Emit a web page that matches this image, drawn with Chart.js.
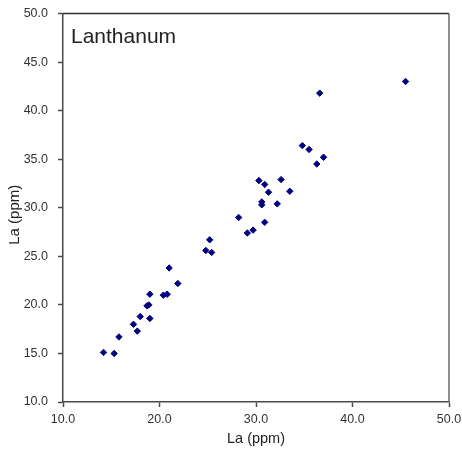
<!DOCTYPE html>
<html>
<head>
<meta charset="utf-8">
<script src="https://cdn.jsdelivr.net/npm/chart.js@4/dist/chart.umd.min.js"></script>
<style>
  html, body { margin: 0; padding: 0; background: #ffffff; }
  #wrap { width: 462px; height: 455px; }
</style>
</head>
<body>
<div id="wrap"><canvas id="chart" width="462" height="455"></canvas></div>
<script>
// Lanthanum: two La determinations (ppm) per sample
const laMethodA = [14.2, 15.3, 15.8, 17.3, 17.7, 18.0, 18.7, 18.9, 19.0, 19.0,
                   20.4, 20.8, 21.0, 21.9, 24.8, 25.2, 25.4, 28.2, 29.1, 29.7,
                   30.3, 30.6, 30.6, 30.9, 30.9, 31.3, 32.2, 32.6, 33.5, 34.8,
                   35.5, 36.3, 36.6, 37.0, 45.5];
const laMethodB = [15.1, 15.0, 16.7, 18.0, 17.3, 18.8, 19.9, 20.0, 18.6, 21.1,
                   21.0, 21.1, 23.8, 22.2, 25.6, 26.7, 25.4, 29.0, 27.4, 27.7,
                   32.8, 30.6, 30.3, 32.4, 28.5, 31.6, 30.4, 32.9, 31.7, 36.4,
                   36.0, 34.5, 41.8, 35.2, 43.0];
const xTickValues = [10, 20, 30, 40, 50];
const yTickValues = [10, 15, 20, 25, 30, 35, 40, 45, 50];
const panelTitle = 'Lanthanum';
const xAxisTitle = 'La (ppm)';
const yAxisTitle = 'La (ppm)';

const points = laMethodA.map((x, i) => ({ x: x, y: laMethodB[i] }));

const FONT = 'Arial, "Liberation Sans", Helvetica, sans-serif';
const AXIS = '#4a4a4a';

// Closes the plot frame on the top and right, writes the panel name inside it,
// and sets the vertical axis title beside the y scale
const framePlugin = {
  id: 'frame',
  afterDraw(chart) {
    const { ctx, chartArea: a } = chart;
    ctx.save();
    ctx.lineWidth = 1.5;
    ctx.strokeStyle = '#333333';
    ctx.beginPath();
    ctx.moveTo(a.left, a.top);
    ctx.lineTo(a.right, a.top);
    ctx.stroke();
    ctx.strokeStyle = '#6a6a6a';
    ctx.beginPath();
    ctx.moveTo(a.right, a.top);
    ctx.lineTo(a.right, a.bottom);
    ctx.stroke();

    ctx.fillStyle = '#222222';
    ctx.font = '21px ' + FONT;
    ctx.textAlign = 'left';
    ctx.textBaseline = 'alphabetic';
    ctx.fillText(panelTitle, a.left + 8, a.top + 29);

    const ys = chart.scales.y;
    ctx.translate(ys.left + 15, (a.top + a.bottom) / 2 + 7);
    ctx.rotate(-Math.PI / 2);
    ctx.font = '15px ' + FONT;
    ctx.textAlign = 'center';
    ctx.textBaseline = 'middle';
    ctx.fillText(yAxisTitle, 0, 0);
    ctx.restore();
  }
};

new Chart(document.getElementById('chart'), {
  type: 'scatter',
  data: {
    datasets: [{
      data: points,
      pointStyle: 'rectRot',
      pointRadius: 3.2,
      pointHoverRadius: 3.2,
      pointBackgroundColor: '#000080',
      pointBorderColor: '#000080',
      pointBorderWidth: 1
    }]
  },
  options: {
    responsive: false,
    devicePixelRatio: 1,
    animation: false,
    layout: { padding: { top: 13.5, right: 13, left: 0, bottom: 0 } },
    plugins: { legend: { display: false }, tooltip: { enabled: false } },
    scales: {
      x: {
        type: 'linear',
        min: 10, max: 50,
        afterBuildTicks(scale) { scale.ticks = xTickValues.map(v => ({ value: v })); },
        afterFit(scale) {
          scale.height = 53;
          scale.paddingLeft = 0;
          scale.paddingRight = 0;
        },
        ticks: {
          color: '#333333',
          font: { family: FONT, size: 12.5 },
          padding: 5,
          maxRotation: 0,
          callback: v => Number(v).toFixed(1)
        },
        grid: { drawOnChartArea: false, drawTicks: true, tickLength: 5, tickColor: AXIS, tickWidth: 1.5 },
        border: { display: true, color: AXIS, width: 1.5 },
        title: {
          display: true,
          text: xAxisTitle,
          color: '#222222',
          font: { family: FONT, size: 14.5 },
          padding: { top: 0, bottom: 7.5 }
        }
      },
      y: {
        type: 'linear',
        min: 10, max: 50,
        afterBuildTicks(scale) { scale.ticks = yTickValues.map(v => ({ value: v })); },
        afterFit(scale) {
          scale.width = 63;
          scale.paddingTop = 0;
          scale.paddingBottom = 0;
        },
        ticks: {
          color: '#333333',
          font: { family: FONT, size: 12.5 },
          padding: 10,
          callback: v => Number(v).toFixed(1)
        },
        grid: { drawOnChartArea: false, drawTicks: true, tickLength: 5, tickColor: AXIS, tickWidth: 1.5 },
        border: { display: true, color: AXIS, width: 1.5 },
        title: { display: false }
      }
    }
  },
  plugins: [framePlugin]
});
</script>
</body>
</html>
